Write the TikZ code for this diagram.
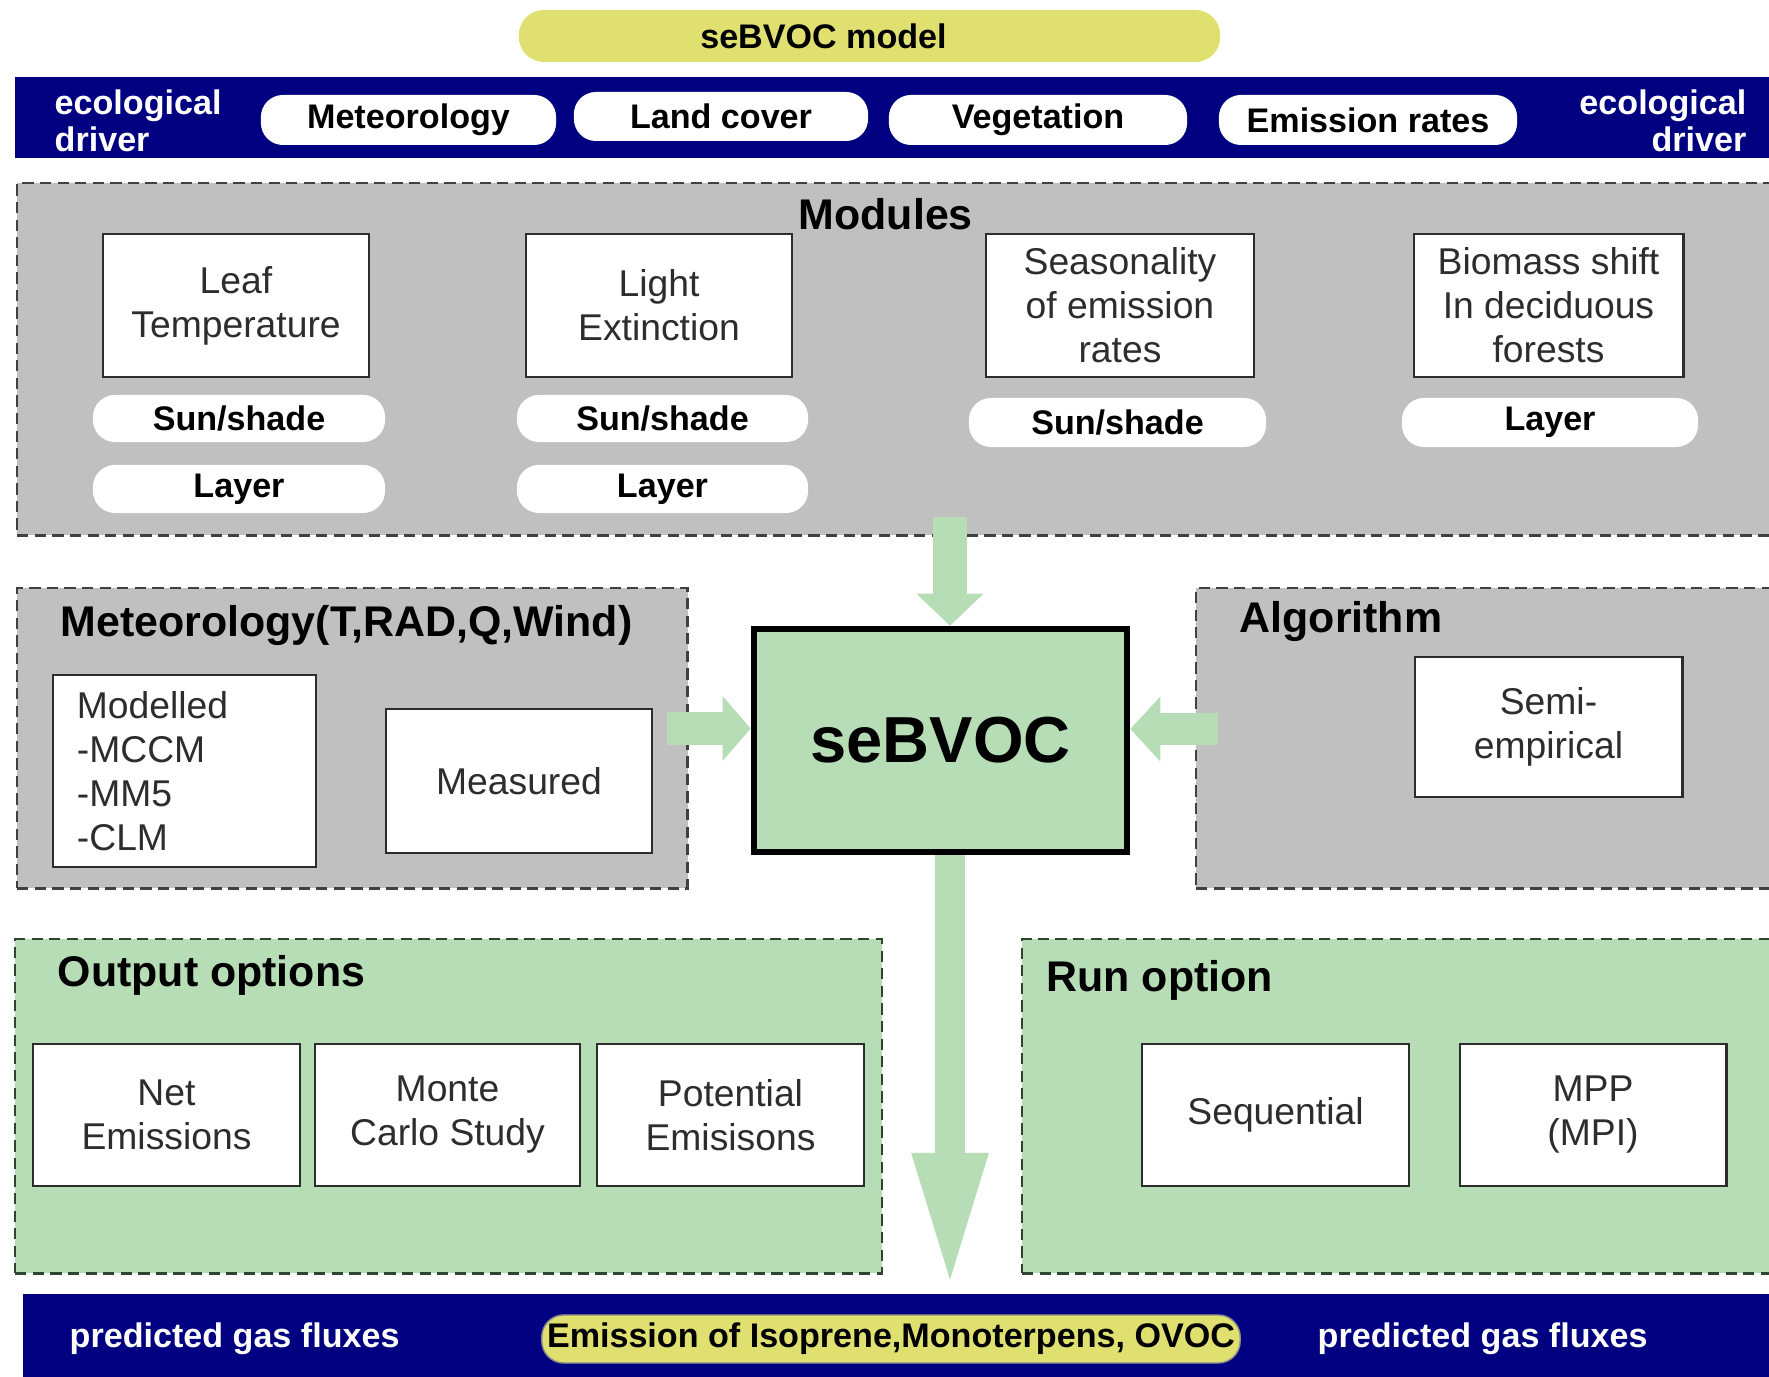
\documentclass[tikz,border=0pt]{standalone}
\usepackage{fontspec}
\setmainfont{Liberation Sans}
\usetikzlibrary{arrows.meta,calc}
\definecolor{navy}{RGB}{0,0,128}
\definecolor{ylw}{RGB}{224,224,112}
\definecolor{gry}{RGB}{192,192,192}
\definecolor{grn}{RGB}{183,221,183}
\definecolor{dgrn}{RGB}{45,70,45}
\definecolor{txt}{RGB}{45,45,45}
\newcommand{\pillfnt}{\fontsize{9.7pt}{10.5pt}\selectfont\bfseries}
\newcommand{\boxfnt}{\fontsize{10.6pt}{12.5pt}\selectfont}
\newcommand{\ttlfnt}{\fontsize{12.2pt}{14pt}\selectfont\bfseries}
\newcommand{\bigfnt}{\fontsize{18.5pt}{20pt}\selectfont\bfseries}
\begin{document}
\begin{tikzpicture}[x=0.01cm,y=-0.01cm,
  container/.style={draw=#1, dash pattern=on 3.2pt off 1.8pt, line width=0.7pt, inner sep=0pt, anchor=north west},
  band/.style={fill=navy, draw=none, inner sep=0pt, anchor=north west},
  bandtxt/.style={text=white, font=\pillfnt, inner sep=0pt},
  pill/.style={fill=white, rounded corners=0.22cm, inner sep=0pt, font=\pillfnt, text=black},
  modbox/.style={fill=white, draw=txt, line width=0.8pt, font=\boxfnt, text=txt, align=center, inner sep=0pt},
  ttl/.style={font=\ttlfnt, text=black, inner sep=0pt, anchor=base west},
  garrow/.style={draw=grn, line cap=butt}
]
\useasboundingbox (0,0) rectangle (1769,1377);
\fill[white] (0,0) rectangle (1769,1377);

% top model pill
\node[pill, fill=ylw, rounded corners=0.25cm, minimum width=7.01cm, minimum height=0.52cm] (modelpill) at (869.5,36) {};
\node[font=\pillfnt, inner sep=0pt] (modeltxt) at (823.5,36) {seBVOC model};

% top band
\node[band, minimum width=17.66cm, minimum height=0.81cm] (band1) at (14,76) {};
\node[bandtxt, align=left, anchor=west] (ecoL) at (54,121) {ecological\\driver};
\node[bandtxt, align=right, anchor=east] (ecoR) at (1747,121) {ecological\\driver};
\node[pill, minimum width=2.95cm, minimum height=0.50cm] (pmet) at (408.5,120) {Meteorology};
\node[pill, minimum width=2.94cm, minimum height=0.49cm] (pland) at (721,116.5) {Land cover};
\node[pill, minimum width=2.98cm, minimum height=0.50cm] (pveg) at (1038,120) {Vegetation};
\node[pill, minimum width=2.98cm, minimum height=0.50cm] (pemi) at (1368,120) {Emission rates};

% Modules container
\node[container=black!75, fill=gry, minimum width=17.74cm, minimum height=3.52cm] (modules) at (16,182) {};
\node[ttl] (modtitle) at (798,230) {Modules};
\node[modbox, minimum width=2.66cm, minimum height=1.43cm] (leaf) at (236,305.5) {Leaf\\Temperature};
\node[modbox, minimum width=2.66cm, minimum height=1.43cm] (light) at (659,305.5) {Light\\Extinction};
\node[modbox, minimum width=2.68cm, minimum height=1.43cm] (season) at (1120,305.5) {Seasonality\\of emission\\rates};
\node[modbox, minimum width=2.69cm, minimum height=1.43cm] (biomass) at (1548.5,305.5) {Biomass shift\\In deciduous\\forests};
\node[pill, minimum width=2.92cm, minimum height=0.47cm] (leafsun) at (239,418.5) {Sun/shade};
\node[pill, minimum width=2.92cm, minimum height=0.48cm] (leaflay) at (239,489) {Layer};
\node[pill, minimum width=2.91cm, minimum height=0.47cm] (lightsun) at (662.5,418.5) {Sun/shade};
\node[pill, minimum width=2.91cm, minimum height=0.48cm] (lightlay) at (662.5,489) {Layer};
\node[pill, minimum width=2.97cm, minimum height=0.49cm] (seasun) at (1117.5,422.5) {Sun/shade};
\node[pill, minimum width=2.96cm, minimum height=0.49cm] (biolay) at (1550,422.5) {Layer};

% Meteorology container
\node[container=black!75, fill=gry, minimum width=6.70cm, minimum height=3.00cm] (metbox) at (16,587) {};
\node[ttl] (mettitle) at (60,637) {Meteorology(T,RAD,Q,Wind)};
\node[modbox, align=left, text width=2.15cm, inner xsep=0.24cm, minimum width=2.63cm, minimum height=1.92cm] (modelled) at (184.5,771) {Modelled\\-MCCM\\-MM5\\-CLM};
\node[modbox, minimum width=2.66cm, minimum height=1.44cm] (measured) at (519,781) {Measured};

% Algorithm container
\node[container=black!75, fill=gry, minimum width=5.95cm, minimum height=3.00cm] (algbox) at (1195,587) {};
\node[ttl] (algtitle) at (1239,633) {Algorithm};
\node[modbox, minimum width=2.67cm, minimum height=1.40cm] (semi) at (1548.5,727) {Semi-\\empirical};

% Output options container
\node[container=dgrn, fill=grn, minimum width=8.66cm, minimum height=3.34cm] (outbox) at (14,938) {};
\node[ttl] (outtitle) at (57,987) {Output options};
\node[modbox, minimum width=2.67cm, minimum height=1.42cm] (net) at (166.5,1115) {Net\\Emissions};
\node[modbox, minimum width=2.65cm, minimum height=1.42cm] (monte) at (447.5,1115) {Monte\\Carlo Study};
\node[modbox, minimum width=2.67cm, minimum height=1.42cm] (potential) at (730.5,1115) {Potential\\Emisisons};

% Run option container
\node[container=dgrn, fill=grn, minimum width=7.69cm, minimum height=3.34cm] (runbox) at (1021,938) {};
\node[ttl] (runtitle) at (1046,992) {Run option};
\node[modbox, minimum width=2.67cm, minimum height=1.42cm] (sequential) at (1275.5,1115) {Sequential};
\node[modbox, minimum width=2.66cm, minimum height=1.42cm] (mpp) at (1593,1115) {MPP\\(MPI)};

% bottom band
\node[band, minimum width=17.58cm, minimum height=0.97cm] (band2) at (22,1293) {};
\node[bandtxt, anchor=west] (gasL) at (69,1339) {predicted gas fluxes};
\node[bandtxt, anchor=west] (gasR) at (1317,1339) {predicted gas fluxes};
\node[pill, fill=ylw, draw=black!45, line width=0.4pt, minimum width=6.98cm, minimum height=0.48cm] (emis) at (891,1339) {Emission of Isoprene,Monoterpens, OVOC};

% central seBVOC
\node[fill=grn, draw=black, line width=1.8pt, minimum width=3.73cm, minimum height=2.23cm, font=\bigfnt, inner sep=0pt] (sebvoc) at (940.5,740.5) {seBVOC};

% block arrows
\coordinate (topstart) at (950,517);
\coordinate (leftstart) at (667,728.5);
\coordinate (rightstart) at (1218,729);
\draw[garrow, line width=0.34cm, -{Triangle[width=0.65cm, length=0.32cm]}] (topstart) -- (topstart |- sebvoc.north);
\draw[garrow, line width=0.33cm, -{Triangle[width=0.63cm, length=0.28cm]}] (leftstart) -- (sebvoc.west |- leftstart);
\draw[garrow, line width=0.32cm, -{Triangle[width=0.63cm, length=0.30cm]}] (rightstart) -- (sebvoc.east |- rightstart);
\draw[garrow, line width=0.30cm, -{Triangle[width=0.67cm, length=1.40cm]}] (sebvoc.south -| topstart) -- (band2.north -| topstart);
\end{tikzpicture}
\end{document}
